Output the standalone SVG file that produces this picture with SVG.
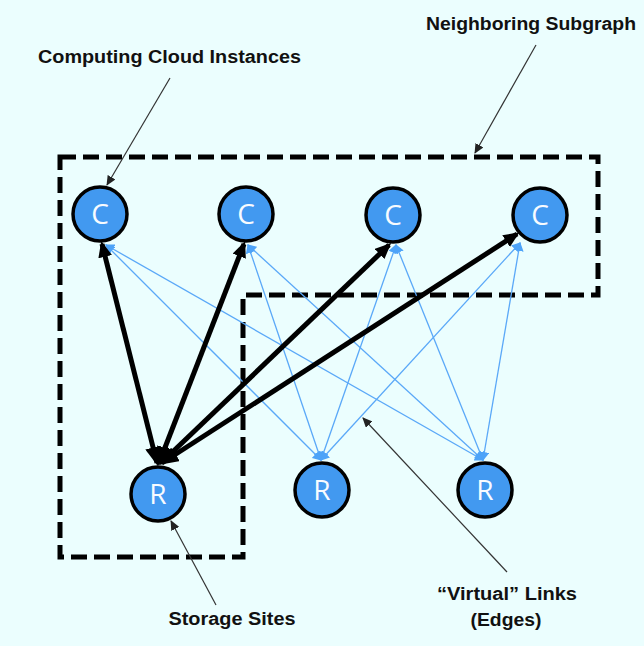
<svg xmlns="http://www.w3.org/2000/svg" width="644" height="646" viewBox="0 0 644 646">
<style>
.bg{fill:#ebfefe}
.node circle{fill:#4299f0;stroke:#000;stroke-width:3.5}
.node text{font-family:"Open Sans","DejaVu Sans",sans-serif;font-size:28px;fill:#f8fbff;text-anchor:middle}
.lbl{font-family:"Liberation Sans",Arial,sans-serif;font-weight:bold;font-size:18px;fill:#111;text-anchor:middle}
.thick{stroke:#000;stroke-width:5;fill:none;marker-start:url(#ab2);marker-end:url(#ab)}
.thin{stroke:#5aa8f8;stroke-width:1.3;fill:none;marker-start:url(#au);marker-end:url(#au)}
.ann{stroke:#333;stroke-width:1.2;fill:none;marker-end:url(#aa)}
.grp{fill:none;stroke:#000;stroke-width:5;stroke-dasharray:16 7}
</style>
<defs>
<marker id="ab" markerUnits="userSpaceOnUse" markerWidth="16" markerHeight="14" viewBox="0 0 16 14" refX="13" refY="7" orient="auto-start-reverse"><path d="M0,0 L16,7 L0,14 Z" fill="#000"/></marker>
<marker id="ab2" markerUnits="userSpaceOnUse" markerWidth="19" markerHeight="16" viewBox="0 0 19 16" refX="16" refY="8" orient="auto-start-reverse"><path d="M0,0 L19,8 L0,16 Z" fill="#000"/></marker>
<marker id="au" markerUnits="userSpaceOnUse" markerWidth="9" markerHeight="10" viewBox="0 0 9 10" refX="8" refY="5" orient="auto-start-reverse"><path d="M0,0 L9,5 L0,10 Z" fill="#4da3f8"/></marker>
<marker id="aa" markerUnits="userSpaceOnUse" markerWidth="10" markerHeight="9" viewBox="0 0 10 9" refX="9" refY="4.5" orient="auto"><path d="M0,0 L10,4.5 L0,9 Z" fill="#222"/></marker>
</defs>
<rect class="bg" x="0" y="0" width="644" height="646"/>
<path class="grp" d="M60,157 H598 V295 H243 V557 H60 Z"/>
<g id="connectors">
<line class="thin" x1="106" y1="245" x2="321" y2="460"/>
<line class="thin" x1="106" y1="245" x2="483" y2="460"/>
<line class="thin" x1="248" y1="245" x2="321" y2="460"/>
<line class="thin" x1="248" y1="245" x2="483" y2="460"/>
<line class="thin" x1="396" y1="245" x2="321" y2="460"/>
<line class="thin" x1="396" y1="245" x2="483" y2="460"/>
<line class="thin" x1="520" y1="243" x2="321" y2="460"/>
<line class="thin" x1="520" y1="243" x2="483" y2="460"/>
<line class="thick" x1="157" y1="463" x2="102" y2="244"/>
<line class="thick" x1="159" y1="463" x2="244" y2="244"/>
<line class="thick" x1="161" y1="463" x2="389" y2="245"/>
<line class="thick" x1="162" y1="463" x2="517" y2="234"/>
<line class="ann" x1="170" y1="78" x2="107" y2="185"/>
<line class="ann" x1="536" y1="45" x2="475" y2="153"/>
<line class="ann" x1="216" y1="605" x2="171" y2="521"/>
<line class="ann" x1="507" y1="572" x2="363" y2="418"/>
</g>
<g id="c1" class="node"><circle cx="100" cy="214" r="27"/><text x="100" y="224">C</text></g>
<g id="c2" class="node"><circle cx="246" cy="214" r="27"/><text x="246" y="224">C</text></g>
<g id="c3" class="node"><circle cx="393" cy="215" r="27"/><text x="393" y="225">C</text></g>
<g id="c4" class="node"><circle cx="540" cy="215" r="27"/><text x="540" y="225">C</text></g>
<g id="r1" class="node"><circle cx="158" cy="494" r="27"/><text x="158" y="504">R</text></g>
<g id="r2" class="node"><circle cx="322" cy="490" r="27"/><text x="322" y="500">R</text></g>
<g id="r3" class="node"><circle cx="485" cy="490" r="27"/><text x="485" y="500">R</text></g>
<g id="labels">
<text class="lbl" x="169.5" y="63" textLength="263" lengthAdjust="spacingAndGlyphs">Computing Cloud Instances</text>
<text class="lbl" x="531" y="30" textLength="210" lengthAdjust="spacingAndGlyphs">Neighboring Subgraph</text>
<text class="lbl" x="232" y="625" textLength="127" lengthAdjust="spacingAndGlyphs">Storage Sites</text>
<text class="lbl" x="507" y="600" textLength="140" lengthAdjust="spacingAndGlyphs">“Virtual” Links</text>
<text class="lbl" x="506" y="626" textLength="71" lengthAdjust="spacingAndGlyphs">(Edges)</text>
</g>
</svg>
